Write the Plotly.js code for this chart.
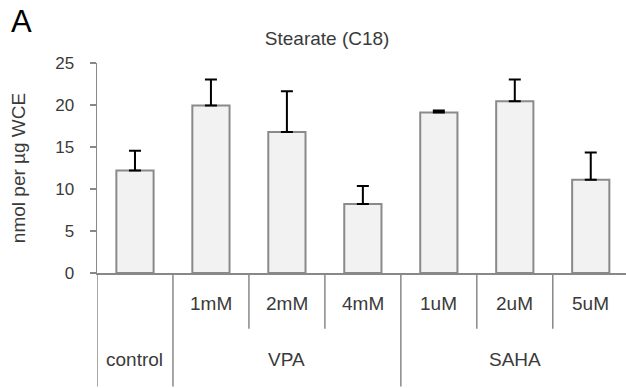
<!DOCTYPE html>
<html>
<head>
<meta charset="utf-8">
<script src="https://cdn.plot.ly/plotly-3.0.1.min.js"></script>
<style>
  html, body { margin: 0; padding: 0; background: #fff; }
  #chart { width: 626px; height: 388px; }
</style>
</head>
<body>
<div id="chart"></div>
<script>
// ---- data ----
var categories = ['control', '1mM', '2mM', '4mM', '1uM', '2uM', '5uM'];
var subLabels  = ['', '1mM', '2mM', '4mM', '1uM', '2uM', '5uM'];
var values     = [12.2, 19.95, 16.8, 8.2, 19.1, 20.45, 11.1];
var errors     = [2.35, 3.1, 4.85, 2.15, 0.24, 2.6, 3.25];
var groupNames = ['control', 'VPA', 'SAHA'];
var groupFirst = [0, 1, 4];
var groupLast  = [0, 3, 6];
var yTicks     = [0, 5, 10, 15, 20, 25];

var axisGrey = '#888888';
var textCol = '#3a3a3a';
var font = 'Liberation Sans, Arial, sans-serif';

var trace = {
  type: 'bar',
  x: categories,
  y: values,
  width: 0.49,
  marker: { color: '#f2f2f2', line: { color: '#8a8a8a', width: 2 } },
  error_y: {
    type: 'data', symmetric: false,
    array: errors,
    arrayminus: errors.map(function () { return 0; }),
    color: '#000000', thickness: 2, width: 6
  },
  hoverinfo: 'none'
};

var shapes = [];
var annotations = [];

// sub-category labels
categories.forEach(function (c, i) {
  if (subLabels[i]) {
    annotations.push({
      x: i, xref: 'x', y: -0.146, yref: 'paper',
      text: subLabels[i], showarrow: false,
      xanchor: 'center', yanchor: 'middle',
      font: { family: font, size: 19, color: textCol }
    });
  }
});
// group labels and dividers
groupNames.forEach(function (g, k) {
  var a = groupFirst[k], b = groupLast[k];
  annotations.push({
    x: (a + b) / 2, xref: 'x', y: -0.41, yref: 'paper',
    text: g, showarrow: false,
    xanchor: 'center', yanchor: 'middle',
    font: { family: font, size: 19, color: textCol }
  });
  shapes.push({
    type: 'line', xref: 'x', yref: 'paper',
    x0: a - 0.5, x1: a - 0.5, y0: 0, y1: -0.54,
    line: { color: axisGrey, width: 1.5 }
  });
  for (var j = a + 1; j <= b; j++) {
    shapes.push({
      type: 'line', xref: 'x', yref: 'paper',
      x0: j - 0.5, x1: j - 0.5, y0: 0, y1: -0.265,
      line: { color: axisGrey, width: 1.5 }
    });
  }
});
// little stub of the x axis line left of the y axis
shapes.push({
  type: 'line', xref: 'paper', yref: 'y',
  x0: -0.013, x1: 0, y0: 0, y1: 0,
  line: { color: axisGrey, width: 1.5 }
});

// panel letter
annotations.push({
  x: -0.166, xref: 'paper', y: 1.20, yref: 'paper',
  text: 'A', showarrow: false, xanchor: 'left', yanchor: 'middle',
  font: { family: font, size: 31, color: '#000000' }
});

var layout = {
  width: 626, height: 388,
  margin: { l: 97, r: 0, t: 63, b: 115, pad: 0 },
  paper_bgcolor: '#ffffff', plot_bgcolor: '#ffffff',
  showlegend: false,
  title: {
    text: 'Stearate (C18)',
    font: { family: font, size: 19, color: textCol },
    x: 0.435, xref: 'paper', xanchor: 'center',
    y: 0.900, yanchor: 'middle'
  },
  xaxis: {
    type: 'category',
    range: [-0.5, 6.464],
    showticklabels: false, ticks: '',
    showline: true, linecolor: axisGrey, linewidth: 1.5,
    showgrid: false, zeroline: false, fixedrange: true
  },
  yaxis: {
    range: [0, 25],
    tickvals: yTicks,
    ticks: 'outside', ticklen: 6, tickcolor: axisGrey, tickwidth: 1.5,
    ticklabelstandoff: 12,
    showline: true, linecolor: axisGrey, linewidth: 1.5,
    showgrid: false, zeroline: false,
    tickfont: { family: font, size: 17, color: textCol },
    title: {
      text: 'nmol per µg WCE',
      font: { family: font, size: 19, color: textCol },
      standoff: 24
    },
    fixedrange: true
  },
  shapes: shapes,
  annotations: annotations
};

Plotly.newPlot('chart', [trace], layout, { displayModeBar: false, staticPlot: true });
</script>
</body>
</html>
